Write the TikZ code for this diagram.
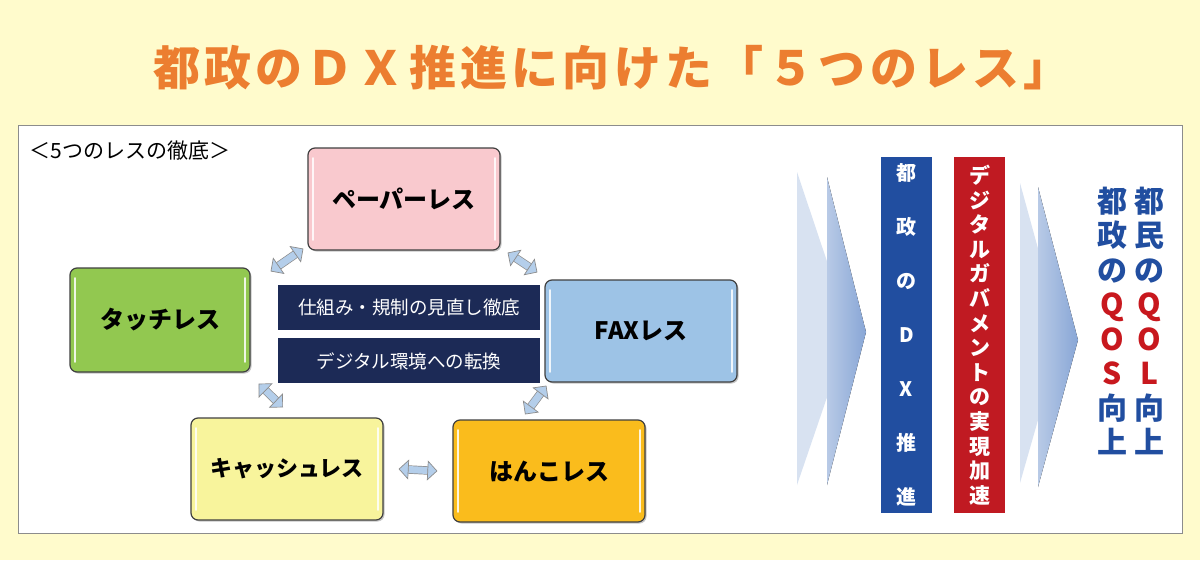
\documentclass[tikz,border=0pt]{standalone}
\usepackage{fontspec}
\setmainfont{Noto Sans CJK JP}
\usetikzlibrary{arrows.meta,positioning,shadows}

\definecolor{bgyellow}{RGB}{255,251,204}
\definecolor{titleorange}{RGB}{236,126,48}
\definecolor{paperpink}{RGB}{249,201,206}
\definecolor{touchgreen}{RGB}{146,200,80}
\definecolor{faxblue}{RGB}{157,195,230}
\definecolor{cashyellow}{RGB}{248,244,156}
\definecolor{hankogold}{RGB}{250,188,28}
\definecolor{rulenavy}{RGB}{28,42,86}
\definecolor{arrowblue}{RGB}{180,206,234}
\definecolor{chevlight}{RGB}{216,226,241}
\definecolor{chevdark}{RGB}{136,166,214}
\definecolor{dxblue}{RGB}{33,78,160}
\definecolor{govred}{RGB}{192,26,34}
\definecolor{qred}{RGB}{200,24,30}

\begin{document}
\begin{tikzpicture}[
    x=1pt, y=-1pt,
    lessbox/.style={draw=black!75, line width=1.2pt, rounded corners=7pt,
        minimum width=192pt, minimum height=102pt,
        font=\fontsize{24}{28}\selectfont\bfseries,
        drop shadow={shadow xshift=1.5pt, shadow yshift=-1.5pt, opacity=0.45},
        path picture={
            \draw[white, line width=1.8pt, line cap=round, opacity=0.85]
                ([xshift=5pt, yshift=-10pt]path picture bounding box.north west)
                -- ([xshift=5pt, yshift=10pt]path picture bounding box.south west);
            \draw[white, line width=1.8pt, line cap=round, opacity=0.85]
                ([xshift=-5pt, yshift=-10pt]path picture bounding box.north east)
                -- ([xshift=-5pt, yshift=10pt]path picture bounding box.south east);
        }},
    rulebox/.style={fill=rulenavy, text=white, inner sep=0pt,
        minimum width=262pt, minimum height=45pt,
        font=\fontsize{18.5}{22}\selectfont},
    linkarrow/.style={draw=black!45, line width=0.7pt,
        double=arrowblue, double distance=7pt,
        {Triangle[open, fill=arrowblue, length=10pt, width=20pt]}-{Triangle[open, fill=arrowblue, length=10pt, width=20pt]}},
    vbar/.style={text=white, inner sep=0pt, minimum width=51pt,
        minimum height=356pt, align=center},
    qtext/.style={inner sep=0pt, align=center, text=dxblue,
        font=\fontsize{30}{34.5}\selectfont\bfseries}
]
\fill[bgyellow] (0,0) rectangle (1200,560);

% title
\node[text=titleorange, font=\fontsize{47}{50}\selectfont\bfseries\addfontfeatures{LetterSpace=9}] (title) at (612,68)
    {都政のＤＸ推進に向けた「５つのレス」};

% white panel
\draw[fill=white, draw=black!45, line width=1pt] (18,125) rectangle (1182,533);
\node[anchor=west, font=\fontsize{21}{24}\selectfont] (heading) at (26,151) {＜5つのレスの徹底＞};

% the five "less" boxes
\node[lessbox, fill=paperpink] (paper) at (404,199) {ペーパーレス};
\node[lessbox, fill=touchgreen, minimum width=180pt, minimum height=104pt] (touch) at (160,320) {タッチレス};
\node[lessbox, fill=faxblue] (fax) at (641,331) {FAXレス};
\node[lessbox, fill=cashyellow, font=\fontsize{22}{26}\selectfont\bfseries] (cash) at (287,469) {キャッシュレス};
\node[lessbox, fill=hankogold] (hanko) at (549,471) {はんこレス};

\node[rulebox] (rules) at (409,307.5) {仕組み・規制の見直し徹底};
\node[rulebox, below=8pt of rules] (digital) {デジタル環境への転換};

\draw[linkarrow] ([xshift=20pt, yshift=-4pt]touch.north east) -- ([xshift=-4pt, yshift=2pt]paper.south west);
\draw[linkarrow] ([xshift=7pt, yshift=-2pt]paper.south east) -- ([xshift=-7pt, yshift=7pt]fax.north west);
\draw[linkarrow] ([xshift=8pt, yshift=-11pt]touch.south east) -- ([xshift=-4pt, yshift=10pt]cash.north);
\draw[linkarrow] ([xshift=2pt, yshift=-3pt]fax.south west) -- ([xshift=-24pt, yshift=5pt]hanko.north);
\draw[linkarrow] ([xshift=15pt]cash.east) -- ([xshift=-15pt]hanko.west);

% chevrons
\fill[chevlight] (797,172) -- (850,330) -- (797,485) -- cycle;
\fill[left color=chevlight!60!chevdark, right color=chevdark] (827,177) -- (866,332) -- (827,485) -- cycle;
\fill[chevlight] (1020,183) -- (1062,336) -- (1020,483) -- cycle;
\fill[left color=chevlight!60!chevdark, right color=chevdark] (1038,187) -- (1078,340) -- (1038,487) -- cycle;

% vertical bars
\node[vbar, fill=dxblue, font=\fontsize{20}{54}\selectfont\bfseries] (dx) at (906.5,334.5)
    {都\\政\\の\\D\\X\\推\\進};
\node[vbar, fill=govred, font=\fontsize{21}{24.6}\selectfont\bfseries] (govt) at (979.5,335)
    {デ\\ジ\\タ\\ル\\ガ\\バ\\メ\\ン\\ト\\の\\実\\現\\加\\速};

% outcome
\node[qtext] (qos) at (1112,321)
    {都\\政\\の\\{\color{qred}Q}\\{\color{qred}O}\\{\color{qred}S}\\向\\上};
\node[qtext, right=7pt of qos] (qol)
    {都\\民\\の\\{\color{qred}Q}\\{\color{qred}O}\\{\color{qred}L}\\向\\上};
\end{tikzpicture}
\end{document}
